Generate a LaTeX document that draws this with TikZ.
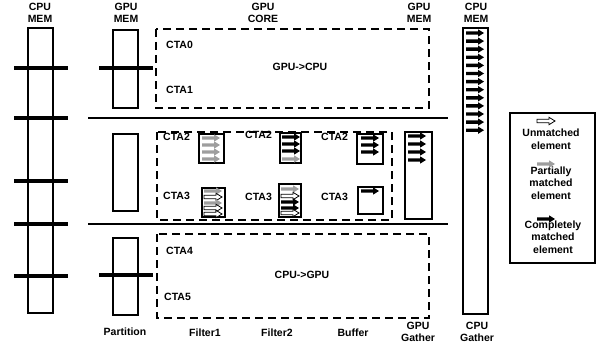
\documentclass[tikz,border=0pt]{standalone}
\usepackage{fontspec}
\setmainfont{Liberation Sans}
\usepackage{tikz}
\usetikzlibrary{positioning}

\begin{document}
\begin{tikzpicture}[x=1pt,y=-1pt,font=\fontsize{10.5}{12.5}\selectfont\bfseries,
  lbl/.style={align=center,inner sep=0pt},
  cta/.style={anchor=west,inner sep=0pt},
  col/.style={draw,line width=1.3pt},
  bar/.style={line width=4.5pt},
  sep/.style={line width=1.8pt},
  grp/.style={draw,dashed,dash pattern=on 8pt off 5pt,line width=1.2pt},
  elbox/.style={draw,line width=1.1pt},
  blk/.style={fill=black},
  gry/.style={fill=black!38},
  wht/.style={draw=black,fill=white,line width=.8pt},
  arr/.pic={\path[pic actions] (0,-1.7)--(12,-1.7)--(12,-3.7)--(18,0)--(12,3.7)--(12,1.7)--(0,1.7)--cycle;}]
\useasboundingbox (0,0) rectangle (599,345);
% column titles
\node[lbl] (tcpu) at (40,13) {CPU\\MEM};
\node[lbl] (tgpu) at (126,13) {GPU\\MEM};
\node[lbl] (tcore) at (263,13) {GPU\\CORE};
\node[lbl] (tgmem) at (419,13) {GPU\\MEM};
\node[lbl] (tcmem) at (476,13) {CPU\\MEM};
% CPU memory
\draw[col] (28,28) rectangle (53,313);
\foreach \y in {68,118,181,224,276} \draw[bar] (14,\y)--(68,\y);
% GPU memory partitions
\draw[col] (113,30) rectangle (138,108);
\draw[col] (113,134) rectangle (138,211);
\draw[col] (113,238) rectangle (138,315);
\draw[bar] (99,68)--(153,68);
\draw[bar] (99,275)--(153,275);
% stage separators
\draw[sep] (88,118)--(448,118);
\draw[sep] (88,224)--(448,224);
% GPU->CPU
\draw[grp] (156,29) rectangle (429,108);
\node[cta] (c0) at (166,45) {CTA0};
\node[cta] (c1) at (166,90) {CTA1};
\node (g2c) at (300,67) {GPU->CPU};
% filter stages
\draw[grp] (157,132) rectangle (392,220);
\node[cta] (c2a) at (163,137) {CTA2};
\node[cta] (c3a) at (163,196) {CTA3};
\node[cta] (c2b) at (245,135) {CTA2};
\node[cta] (c3b) at (245,197) {CTA3};
\node[cta] (c2c) at (321,137) {CTA2};
\node[cta] (c3c) at (321,197) {CTA3};
\draw[elbox] (199,134) rectangle (224,163);
\foreach \y in {138,145,152,159} \pic[gry] at (202,\y) {arr};
\draw[elbox] (202,188) rectangle (225,217);
\pic[gry] at (204,191) {arr};
\pic[wht] at (204,197) {arr};
\pic[gry] at (204,203) {arr};
\pic[wht] at (204,208) {arr};
\pic[wht] at (204,214) {arr};
\draw[elbox] (280,133) rectangle (301,163);
\foreach \y in {137,144,151} \pic[blk] at (282,\y) {arr};
\pic[gry] at (282,159) {arr};
\draw[elbox] (279,184) rectangle (301,217);
\pic[gry] at (281,189) {arr};
\pic[wht] at (281,196) {arr};
\pic[blk] at (281,202) {arr};
\pic[blk] at (281,208) {arr};
\pic[wht] at (281,213) {arr};
\draw[elbox] (357,134) rectangle (383,164);
\foreach \y in {138,145,152} \pic[blk] at (361,\y) {arr};
\draw[elbox] (358,187) rectangle (383,214);
\pic[blk] at (361,191) {arr};
% GPU gather
\draw[col] (405,132) rectangle (432,219);
\foreach \y in {136,144,152,160} \pic[blk] at (408,\y) {arr};
% CPU->GPU
\draw[grp] (157,234) rectangle (429,318);
\node[cta] (c4) at (166,251) {CTA4};
\node[cta] (c5) at (164,297) {CTA5};
\node (c2g) at (302,275) {CPU->GPU};
% CPU gather
\draw[col,line width=1.8pt] (463,28) rectangle (488,314);
\foreach \i in {0,...,12} \pic[blk] at (466,33+8.1*\i) {arr};
% legend
\draw[line width=1.1pt] (510,113) rectangle (595,263);
\pic[wht] at (537,121) {arr};
\node[lbl] (lu) at (551,139) {Unmatched\\element};
\pic[gry] at (537,164) {arr};
\node[lbl] (lp) at (551,183) {Partially\\matched\\element};
\pic[blk] at (537,219) {arr};
\node[lbl] (lc) at (553,237) {Completely\\matched\\element};
% stage names
\node (bpart) at (125,332) {Partition};
\node (bf1) at (205,333) {Filter1};
\node (bf2) at (277,333) {Filter2};
\node (bbuf) at (353,333) {Buffer};
\node[lbl] (bgg) at (418,332) {GPU\\Gather};
\node[lbl] (bcg) at (477,332) {CPU\\Gather};
\end{tikzpicture}
\end{document}
